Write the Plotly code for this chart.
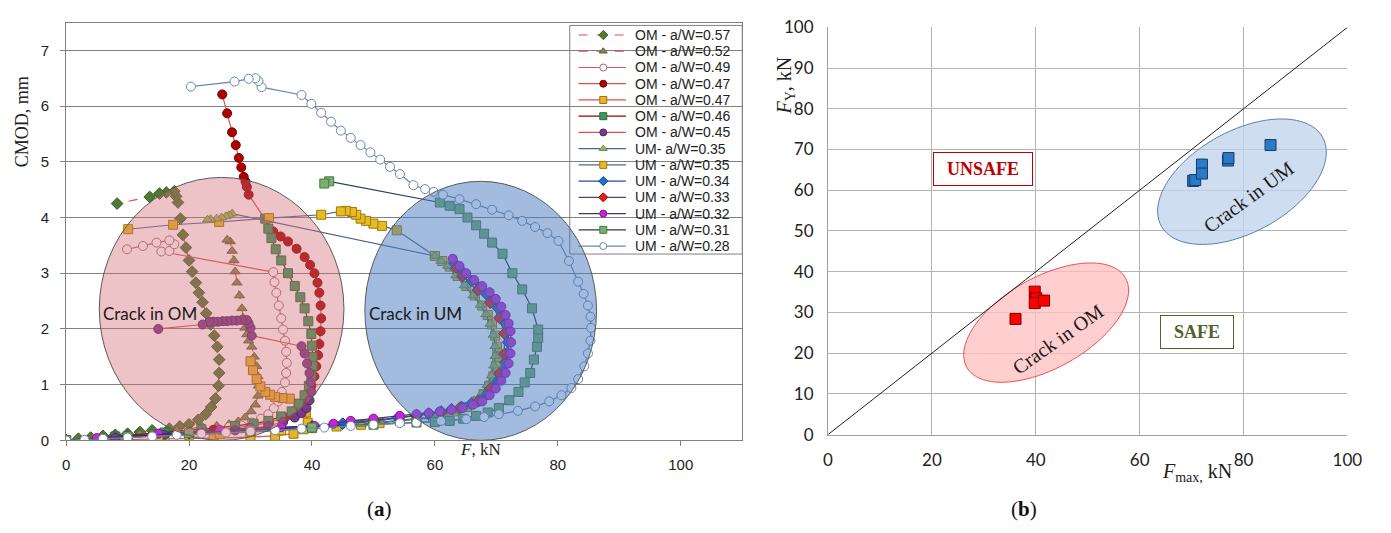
import math
import plotly.graph_objects as go

# ---------------- Panel (a) data: F [kN] vs CMOD [mm] ----------------
OM057_F = [0, 2, 4, 6, 8, 10, 12, 14, 16.8, 18.5, 20.0, 21.5, 22.7, 23.6, 24.3, 24.8, 24.9, 24.9, 24.6, 24.1, 23.5, 22.8, 22.2, 21.6, 21.1, 20.5, 20.0, 19.5, 19.0, 18.6, 18.2, 17.9, 17.6, 16.3, 15.2, 13.6, 8.3]
OM057_C = [0, 0.03, 0.05, 0.08, 0.10, 0.12, 0.15, 0.18, 0.21, 0.25, 0.29, 0.37, 0.47, 0.60, 0.75, 0.98, 1.21, 1.45, 1.68, 1.88, 2.08, 2.28, 2.48, 2.65, 2.83, 3.03, 3.23, 3.46, 3.69, 3.98, 4.27, 4.38, 4.47, 4.45, 4.43, 4.37, 4.25]

OM052_F = [0, 6, 12, 18, 22.2, 24.5, 26.5, 28, 29.1, 30.1, 30.8, 31.2, 31.3, 31.2, 31.0, 30.6, 30.2, 29.7, 29.4, 29.1, 28.8, 28.6, 28.2, 27.8, 27.5, 27.3, 27.0, 26.7, 26.2]
OM052_C = [0, 0.06, 0.12, 0.18, 0.24, 0.26, 0.29, 0.34, 0.41, 0.52, 0.64, 0.80, 0.98, 1.15, 1.33, 1.50, 1.68, 1.79, 1.90, 2.02, 2.20, 2.37, 2.60, 2.83, 3.03, 3.23, 3.40, 3.57, 3.60]

OM049_F = [0, 8, 16, 22, 26.5, 28.5, 30.2, 31.7, 32.9, 33.8, 34.5, 35.1, 35.6, 35.8, 35.9, 35.8, 35.6, 35.3, 35.0, 34.6, 34.2, 33.9, 33.7, 15.5, 16.8, 17.6, 16.8, 14.7, 12.5, 9.9]
OM049_C = [0, 0.07, 0.14, 0.20, 0.24, 0.27, 0.32, 0.39, 0.47, 0.58, 0.70, 0.87, 1.04, 1.21, 1.39, 1.59, 1.79, 1.99, 2.19, 2.42, 2.65, 2.84, 3.02, 3.39, 3.40, 3.52, 3.59, 3.55, 3.49, 3.43]

OM047r_F = [0, 8, 16, 24, 30.2, 33, 35.6, 37, 38.3, 39.2, 39.9, 40.4, 40.7, 41.0, 41.2, 41.4, 41.5, 41.4, 41.2, 40.9, 40.4, 39.7, 38.8, 37.5, 36.1, 34.9, 33.7, 29.7, 29.4, 29.2, 28.9, 28.5, 28.1, 27.6, 27.0, 26.2, 25.4]
OM047r_C = [0, 0.06, 0.12, 0.19, 0.26, 0.32, 0.41, 0.52, 0.64, 0.81, 0.98, 1.15, 1.33, 1.53, 1.73, 1.96, 2.19, 2.42, 2.65, 2.83, 3.00, 3.15, 3.29, 3.44, 3.57, 3.66, 3.75, 4.41, 4.55, 4.64, 4.73, 4.90, 5.07, 5.30, 5.53, 5.87, 6.21]

OM047y_F = [0, 8, 16, 24, 30, 34, 37, 38.6, 39.3, 39.0, 37.8, 36.4, 35.2, 34.0, 33.2, 32.4, 31.6, 31.0, 30.4, 30.0]
OM047y_C = [0, 0.01, 0.02, 0.04, 0.06, 0.08, 0.12, 0.20, 0.32, 0.50, 0.65, 0.75, 0.76, 0.78, 0.82, 0.87, 0.97, 1.10, 1.26, 1.42]

OM046_F = [0, 8, 16, 22, 27.5, 30.5, 32.9, 35, 36.7, 37.9, 38.8, 39.5, 39.9, 40.1, 40.1, 40.0, 39.9, 39.4, 38.8, 38.1, 37.2, 36.1, 35.0, 34.1, 33.4, 32.9, 32.4]
OM046_C = [0, 0.07, 0.14, 0.20, 0.26, 0.30, 0.35, 0.43, 0.52, 0.66, 0.81, 0.98, 1.16, 1.33, 1.50, 1.70, 1.91, 2.14, 2.37, 2.57, 2.77, 3.00, 3.23, 3.43, 3.63, 3.80, 3.98]

OM045_F = [0, 8, 16, 22, 27.5, 30, 32.9, 35.3, 37.2, 38.3, 39.1, 39.6, 39.9, 39.8, 39.6, 39.2, 38.8, 38.3, 30.2, 30.0, 29.7, 29.4, 28.6, 27.8, 27.0, 26.2, 25.5, 24.7, 24.0, 23.3, 22.2, 15.0]
OM045_C = [0, 0.05, 0.10, 0.14, 0.18, 0.21, 0.26, 0.33, 0.41, 0.49, 0.58, 0.72, 0.87, 1.04, 1.21, 1.38, 1.56, 1.69, 1.88, 2.02, 2.10, 2.16, 2.16, 2.15, 2.15, 2.14, 2.14, 2.13, 2.13, 2.13, 2.08, 2.00]

UM035t_F = [0, 10, 20, 30, 40, 48, 54, 57, 59.4, 61.4, 63.2, 64.9, 66.4, 67.6, 68.5, 69.2, 69.6, 69.8, 69.8, 69.5, 69.0, 68.3, 67.4, 66.2, 64.8, 63.4, 62.1, 61.0, 60.0, 27.0, 26.5, 26.0, 25.3, 24.5, 23.5, 23.0]
UM035t_C = [0, 0.05, 0.10, 0.16, 0.22, 0.29, 0.36, 0.39, 0.42, 0.47, 0.53, 0.61, 0.71, 0.84, 0.99, 1.16, 1.34, 1.51, 1.69, 1.89, 2.09, 2.26, 2.43, 2.60, 2.78, 2.96, 3.13, 3.22, 3.31, 4.07, 4.04, 4.02, 4.00, 3.98, 3.97, 3.96]

UM035s_F = [0, 5, 10, 15, 20, 25, 30, 35, 40, 44, 48, 51, 54.3, 57, 59.7, 61.7, 63.5, 65.2, 66.7, 67.9, 68.8, 69.5, 69.9, 70.1, 70.1, 69.8, 69.3, 68.6, 67.7, 66.5, 65.1, 63.7, 62.4, 61.2, 60.0, 53.8, 51.4, 50.0, 48.8, 47.9, 47.2, 46.5, 45.5, 44.7, 41.5, 33.0, 24.9, 17.4, 10.1]
UM035s_C = [0, 0.03, 0.05, 0.08, 0.10, 0.12, 0.15, 0.18, 0.22, 0.25, 0.28, 0.31, 0.35, 0.38, 0.41, 0.46, 0.52, 0.60, 0.70, 0.83, 0.98, 1.15, 1.33, 1.50, 1.68, 1.88, 2.08, 2.25, 2.42, 2.60, 2.77, 2.95, 3.12, 3.22, 3.31, 3.77, 3.85, 3.89, 3.94, 3.98, 4.05, 4.10, 4.12, 4.11, 4.05, 3.99, 3.92, 3.87, 3.79]

UM034_F = [0, 10, 20, 30, 40, 45, 50, 54, 57, 59, 61, 62.7, 64.3, 65.9, 67.3, 68.5, 69.4, 70.3, 71.0, 71.5, 71.8, 71.9, 71.8, 71.5, 71.0, 70.3, 69.4, 68.4, 67.2, 66.0, 64.8, 64.0, 63.2]
UM034_C = [0, 0.07, 0.14, 0.20, 0.25, 0.30, 0.36, 0.41, 0.45, 0.48, 0.52, 0.56, 0.60, 0.66, 0.72, 0.83, 0.95, 1.08, 1.22, 1.40, 1.57, 1.76, 1.95, 2.10, 2.24, 2.37, 2.50, 2.62, 2.74, 2.86, 2.98, 3.08, 3.18]

UM033_F = [0, 10, 20, 30, 40, 50, 57, 61, 64, 67, 69, 70.5, 71.3, 71.3, 70.5, 69, 67, 64.5, 63.5]
UM033_C = [0, 0.06, 0.13, 0.19, 0.24, 0.34, 0.44, 0.50, 0.58, 0.70, 0.93, 1.20, 1.55, 1.92, 2.20, 2.47, 2.70, 2.95, 3.10]

UM032_F = [0, 5, 10, 15, 20, 25, 30, 35, 40.4, 43.5, 46.3, 50, 54.3, 57.0, 59, 60.8, 62.7, 64.5, 66.2, 67.7, 68.9, 69.9, 70.8, 71.5, 72.0, 72.3, 72.4, 72.3, 72.0, 71.5, 70.8, 69.9, 68.9, 67.7, 66.4, 65.1, 64.0, 62.9]
UM032_C = [0, 0.04, 0.08, 0.12, 0.15, 0.19, 0.22, 0.24, 0.26, 0.30, 0.35, 0.39, 0.44, 0.47, 0.49, 0.52, 0.55, 0.58, 0.64, 0.70, 0.81, 0.93, 1.07, 1.21, 1.38, 1.56, 1.76, 1.96, 2.10, 2.25, 2.40, 2.54, 2.66, 2.77, 2.88, 3.00, 3.13, 3.26]

UM031_F = [0, 10, 20, 30, 40, 50, 57, 60, 62.4, 64.6, 66.7, 68.6, 70.4, 72.1, 73.6, 74.6, 75.5, 76.1, 76.6, 76.8, 76.8, 75.8, 74.2, 72.6, 71.0, 69.3, 68.0, 66.7, 65.3, 64.0, 62.4, 60.8, 42.8, 42.0]
UM031_C = [0, 0.07, 0.13, 0.18, 0.23, 0.28, 0.32, 0.33, 0.35, 0.39, 0.44, 0.50, 0.58, 0.72, 0.87, 1.04, 1.21, 1.45, 1.68, 1.84, 1.99, 2.37, 2.71, 3.00, 3.35, 3.55, 3.71, 3.86, 4.00, 4.15, 4.21, 4.27, 4.65, 4.61]

UM028_F = [0, 3, 6, 10, 14, 18, 22, 26, 30, 34, 38.3, 42, 46.3, 50, 54.3, 57.0, 61, 65.1, 68, 70.4, 73.5, 76.3, 78.6, 80.6, 82.2, 83.3, 84.3, 84.9, 85.3, 85.4, 85.3, 84.9, 84.2, 83.3, 81.8, 80.1, 78.3, 76.3, 74.2, 72.0, 69.3, 66.7, 64.0, 61.3, 59.8, 58.4, 56.5, 54.3, 52.7, 51.1, 49.5, 47.9, 46.3, 44.7, 43.1, 41.5, 39.9, 38.3, 31.8, 31.3, 30.8, 29.7, 27.4, 20.3]
UM028_C = [0, 0.01, 0.03, 0.05, 0.07, 0.10, 0.12, 0.14, 0.16, 0.18, 0.21, 0.23, 0.26, 0.28, 0.31, 0.32, 0.35, 0.38, 0.42, 0.47, 0.53, 0.61, 0.70, 0.81, 0.94, 1.10, 1.33, 1.56, 1.79, 2.02, 2.22, 2.42, 2.63, 2.85, 3.22, 3.58, 3.72, 3.83, 3.94, 4.04, 4.14, 4.24, 4.33, 4.41, 4.46, 4.51, 4.58, 4.78, 4.91, 5.04, 5.17, 5.30, 5.43, 5.56, 5.72, 5.88, 6.04, 6.20, 6.34, 6.45, 6.50, 6.49, 6.44, 6.35]

SERIES_NAMES = ['OM - a/W=0.57', 'OM - a/W=0.52', 'OM - a/W=0.49', 'OM - a/W=0.47', 'OM - a/W=0.47',
                'OM - a/W=0.46', 'OM - a/W=0.45', 'UM- a/W=0.35', 'UM - a/W=0.35', 'UM - a/W=0.34',
                'UM - a/W=0.33', 'UM - a/W=0.32', 'UM - a/W=0.31', 'UM - a/W=0.28']

# ---------------- Panel (b) data: Fmax vs FY ----------------
OM_Fmax = [36.1, 39.8, 40.1, 39.8, 41.6]
OM_FY = [28.4, 35.1, 33.5, 32.3, 32.9]
UM_Fmax = [70.3, 70.7, 72.0, 72.0, 77.0, 77.1, 85.2]
UM_FY = [62.3, 62.5, 66.3, 64.1, 67.3, 67.9, 71.1]
DIAG = [0, 100]

# styles (legend order)
STYLES = [
    dict(lc='#e04a4a', dash='dash', sym='diamond', mc='#4f7a35', me='#3a5a25'),
    dict(lc='#e04a4a', dash='dash', sym='triangle-up', mc='#7f8a4a', me='#5a6030'),
    dict(lc='#e05555', dash='solid', sym='circle', mc='#ffffff', me='#9a7070'),
    dict(lc='#e05050', dash='solid', sym='circle', mc='#b00000', me='#700000'),
    dict(lc='#e05050', dash='solid', sym='square', mc='#e8b428', me='#9a7010'),
    dict(lc='#a00000', dash='solid', sym='square', mc='#3a9a5a', me='#2a6a3a'),
    dict(lc='#e05050', dash='solid', sym='circle', mc='#7a3a8a', me='#52245e'),
    dict(lc='#4a6690', dash='solid', sym='triangle-up', mc='#9bbb59', me='#6a8a3a'),
    dict(lc='#506888', dash='solid', sym='square', mc='#e8bc20', me='#9a7a10'),
    dict(lc='#2a4a90', dash='solid', sym='diamond', mc='#1f6fd0', me='#10408a'),
    dict(lc='#404a80', dash='solid', sym='diamond', mc='#e02020', me='#901010'),
    dict(lc='#303a70', dash='solid', sym='circle', mc='#cc22dd', me='#7a1a8a'),
    dict(lc='#2a3a5a', dash='solid', sym='square', mc='#78b070', me='#4a7a44'),
    dict(lc='#6a88aa', dash='solid', sym='circle', mc='#ffffff', me='#6a88aa'),
]

SERIES_DATA = [
    (OM057_F, OM057_C), (OM052_F, OM052_C), (OM049_F, OM049_C), (OM047r_F, OM047r_C),
    (OM047y_F, OM047y_C), (OM046_F, OM046_C), (OM045_F, OM045_C), (UM035t_F, UM035t_C),
    (UM035s_F, UM035s_C), (UM034_F, UM034_C), (UM033_F, UM033_C), (UM032_F, UM032_C),
    (UM031_F, UM031_C), (UM028_F, UM028_C),
]
DRAW_ORDER = [0, 1, 2, 3, 4, 5, 6, 8, 7, 9, 10, 11, 12, 13]

fig = go.Figure()

for i in DRAW_ORDER:
    F, C = SERIES_DATA[i]
    s = STYLES[i]
    fig.add_trace(go.Scatter(
        x=F, y=C, mode='lines+markers', name=SERIES_NAMES[i], showlegend=False,
        line=dict(color=s['lc'], width=1.2, dash=s['dash']),
        marker=dict(symbol=s['sym'], size=9, color=s['mc'], line=dict(color=s['me'], width=1)),
        xaxis='x', yaxis='y'))

W, H = 1391, 533
A_L, A_R, A_T, A_B = 62, 748, 12, 447
B_L, B_R, B_T, B_B = 835, 1362, 17, 441
# legend box (pixels)
L_L, L_R, L_T, L_B = 573, 748, 15, 253
L_STEP = 16.9

# custom legend drawn in its own small pixel-unit axes
for i, s in enumerate(STYLES):
    yy = 10 + L_STEP * i
    fig.add_trace(go.Scatter(x=[9, 57], y=[yy, yy], mode='lines', showlegend=False, hoverinfo='skip',
                             line=dict(color=s['lc'], width=1.2, dash=s['dash']), xaxis='x3', yaxis='y3'))
    fig.add_trace(go.Scatter(x=[34], y=[yy], mode='markers', showlegend=False, hoverinfo='skip',
                             marker=dict(symbol=s['sym'], size=7, color=s['mc'], line=dict(color=s['me'], width=1)),
                             xaxis='x3', yaxis='y3'))

# panel (b) traces
fig.add_trace(go.Scatter(x=DIAG, y=DIAG, mode='lines', line=dict(color='#202020', width=1),
                         showlegend=False, xaxis='x2', yaxis='y2', hoverinfo='skip'))
fig.add_trace(go.Scatter(x=OM_Fmax, y=OM_FY, mode='markers', showlegend=False,
                         marker=dict(symbol='square', size=11, color='#ff0000', line=dict(color='#7a0000', width=1)),
                         xaxis='x2', yaxis='y2'))
fig.add_trace(go.Scatter(x=UM_Fmax, y=UM_FY, mode='markers', showlegend=False,
                         marker=dict(symbol='square', size=11, color='#2a7ac8', line=dict(color='#1a3a66', width=1)),
                         xaxis='x2', yaxis='y2'))


def ellipse_path(cx, cy, a_px, b_px, theta_deg, sx, sy, n=90):
    th = math.radians(theta_deg)
    pts = []
    for k in range(n):
        t = 2 * math.pi * k / n
        dx = a_px * math.cos(t) * math.cos(th) - b_px * math.sin(t) * math.sin(th)
        dy = a_px * math.cos(t) * math.sin(th) + b_px * math.sin(t) * math.cos(th)
        pts.append((cx + dx / sx, cy + dy / sy))
    return 'M ' + ' L '.join(f'{x:.3f},{y:.3f}' for x, y in pts) + ' Z'


sxb = (B_R - B_L) / 100.0
syb = (B_B - B_T) / 100.0

shapes = [
    dict(type='rect', xref='paper', yref='paper', x0=L_L / W, x1=L_R / W, y0=1 - L_B / H, y1=1 - L_T / H,
         layer='below', fillcolor='white', line=dict(color='#808080', width=1)),
    dict(type='circle', xref='x', yref='y', x0=5.4, x1=45.2, y0=0, y1=4.72, layer='above',
         fillcolor='rgba(210,105,115,0.40)', line=dict(color='#5a5a5a', width=1)),
    dict(type='circle', xref='x', yref='y', x0=48.6, x1=86.3, y0=0, y1=4.65, layer='above',
         fillcolor='rgba(70,120,190,0.50)', line=dict(color='#5a5a5a', width=1)),
    dict(type='path', xref='x2', yref='y2', path=ellipse_path(42.0, 27.5, 93, 47, 30.4, sxb, syb),
         layer='between', fillcolor='rgba(255,190,190,0.75)', line=dict(color='#f05050', width=1)),
    dict(type='path', xref='x2', yref='y2', path=ellipse_path(79.7, 62.1, 94, 52.5, 29.9, sxb, syb),
         layer='between', fillcolor='rgba(190,210,235,0.75)', line=dict(color='#5a80b0', width=1)),
]

serif = 'Liberation Serif'
sans = 'Liberation Sans'
cal = 'Lato'


def pa(text, px, py, size, family=serif, angle=0, color='#222'):
    return dict(text=text, x=px / W, y=1 - py / H, xref='paper', yref='paper', xanchor='center',
                yanchor='middle', textangle=angle, showarrow=False,
                font=dict(family=family, size=size, color=color))


annotations = [
    dict(text='Crack in OM', x=13.6, y=2.27, xref='x', yref='y', showarrow=False, xanchor='center',
         yanchor='middle', font=dict(family=cal, size=17, color='#1a1a1a')),
    dict(text='Crack in UM', x=56.9, y=2.27, xref='x', yref='y', showarrow=False, xanchor='center',
         yanchor='middle', font=dict(family=cal, size=17, color='#1a1a1a')),
    pa('CMOD, mm', 18, 115, 18, angle=-90),
    pa('<i>F</i>, kN', 482, 457, 17),
    pa('(<b>a</b>)', 380, 518, 21, color='#111'),
    pa('(<b>b</b>)', 1034, 518, 21, color='#111'),
    pa('<i>F</i><sub>Y</sub>, kN', 792, 78, 20, angle=-90),
    pa('<i>F</i><sub>max,</sub> kN', 1209, 480, 20),
    dict(text='<b>UNSAFE</b>', x=29.8, y=65.1, xref='x2', yref='y2', showarrow=False,
         font=dict(family=serif, size=18, color='#c00000'), bgcolor='white',
         bordercolor='#c00000', borderwidth=1, width=96, height=30),
    dict(text='<b>SAFE</b>', x=71.0, y=25.1, xref='x2', yref='y2', showarrow=False,
         font=dict(family=serif, size=18, color='#4f6228'), bgcolor='white',
         bordercolor='#4f6228', borderwidth=1, width=70, height=30),
    dict(text='Crack in UM', x=81.0, y=58.3, xref='x2', yref='y2', showarrow=False, textangle=-36,
         font=dict(family=serif, size=20, color='#1a1a1a')),
    dict(text='Crack in OM', x=44.3, y=23.5, xref='x2', yref='y2', showarrow=False, textangle=-35,
         font=dict(family=serif, size=20, color='#1a1a1a')),
]

for i, name in enumerate(SERIES_NAMES):
    annotations.append(dict(text=name, x=64, y=10 + L_STEP * i, xref='x3', yref='y3', showarrow=False,
                            xanchor='left', yanchor='middle', font=dict(family=sans, size=14, color='#222')))

fig.update_layout(
    width=W, height=H, margin=dict(l=0, r=0, t=0, b=0),
    paper_bgcolor='white', plot_bgcolor='rgba(0,0,0,0)',
    showlegend=False,
    xaxis=dict(domain=[A_L / W, A_R / W], anchor='y', range=[0, 110], dtick=20, tick0=0,
               showgrid=False, zeroline=False, showline=True, mirror=True, linecolor='#808080',
               ticks='outside', ticklen=5, tickcolor='#808080', ticklabelstandoff=6,
               tickfont=dict(family=sans, size=15, color='#222')),
    yaxis=dict(domain=[1 - A_B / H, 1 - A_T / H], anchor='x', range=[0, 7.5], dtick=1, tick0=0,
               showgrid=True, gridcolor='#808080', gridwidth=1, zeroline=False, showline=True,
               mirror=True, linecolor='#808080', ticks='outside', ticklen=5, tickcolor='#808080',
               ticklabelstandoff=8, tickfont=dict(family=sans, size=15, color='#222')),
    xaxis2=dict(domain=[B_L / W, B_R / W], anchor='y2', range=[0, 100], dtick=20, tick0=0,
                showgrid=True, gridcolor='#b4b4b4', zeroline=False, showline=True, mirror=False,
                linecolor='#a0a0a0', ticks='', ticklabelstandoff=10,
                tickfont=dict(family=cal, size=17, color='#222')),
    yaxis2=dict(domain=[1 - B_B / H, 1 - B_T / H], anchor='x2', range=[0, 100], dtick=10, tick0=0,
                showgrid=True, gridcolor='#b4b4b4', zeroline=False, showline=True, mirror=False,
                linecolor='#a0a0a0', ticks='', ticklabelstandoff=10,
                tickfont=dict(family=cal, size=17, color='#222')),
    xaxis3=dict(domain=[L_L / W, L_R / W], anchor='y3', range=[0, L_R - L_L], visible=False, fixedrange=True),
    yaxis3=dict(domain=[1 - L_B / H, 1 - L_T / H], anchor='x3', range=[L_B - L_T, 0], visible=False, fixedrange=True),
    shapes=shapes, annotations=annotations,
)

fig.write_html('out.html')
